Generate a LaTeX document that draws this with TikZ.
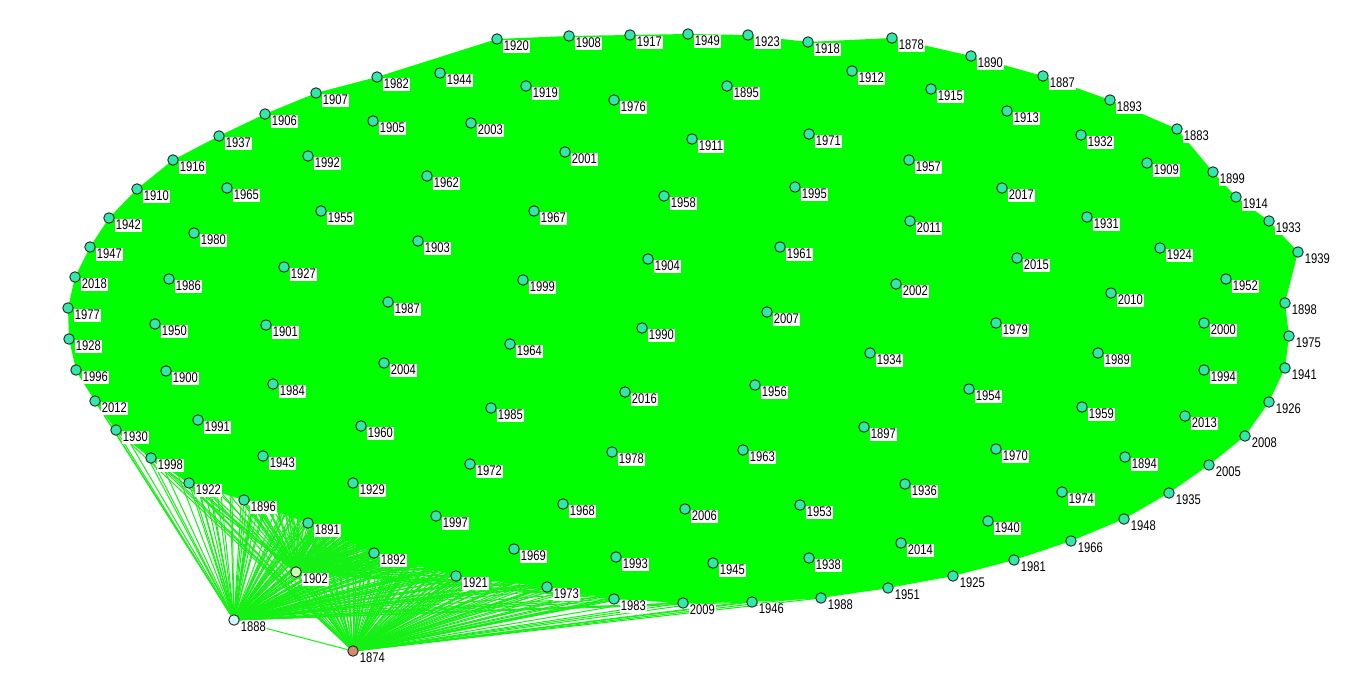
\documentclass[tikz,border=0pt]{standalone}
\usepackage{fontspec}
\newfontfamily\labfont[FakeStretch=0.8]{Liberation Sans}
\usetikzlibrary{backgrounds}
\definecolor{hullgreen}{RGB}{0,255,0}
\definecolor{edgegreen}{RGB}{20,240,20}
\definecolor{vfill}{RGB}{50,232,168}
\definecolor{vline}{RGB}{30,40,35}
\definecolor{fillA}{RGB}{208,255,178}
\definecolor{fillB}{RGB}{210,246,255}
\definecolor{fillC}{RGB}{208,140,108}
\def\outerlist{1920/497/39, 1908/569/36, 1917/630/35, 1949/688/34, 1923/748/35, 1918/808/42, 1878/892/38, 1890/971/56, 1887/1043/76, 1893/1110/100, 1883/1177/129, 1899/1213/172, 1914/1236/197, 1933/1269/221, 1939/1298/252, 1898/1285/303, 1975/1289/336, 1941/1285/368, 1926/1269/402, 2008/1245/436, 2005/1209/465, 1935/1169/493, 1948/1124/519, 1966/1071/541, 1981/1014/560, 1925/953/576, 1951/888/588, 1988/821/598, 1946/752/602, 2009/683/603, 1983/614/599, 1973/547/587, 1921/456/576, 1892/374/553, 1891/308/523, 1896/244/500, 1922/189/483, 1998/151/458, 1930/116/430, 2012/95/401, 1996/76/370, 1928/69/339, 1977/68/308, 2018/75/277, 1947/90/247, 1942/109/218, 1910/137/189, 1916/173/160, 1937/219/136, 1906/265/114, 1907/316/93, 1982/377/77}
\def\innerlist{1944/440/73, 1919/526/86, 1976/614/100, 1895/727/86, 1912/852/71, 1915/931/89, 1913/1007/111, 1932/1081/135, 1909/1147/163, 1905/373/121, 2003/471/123, 1911/692/139, 1971/809/134, 1957/909/160, 2017/1002/188, 1931/1087/217, 1924/1160/248, 1952/1226/279, 2000/1204/323, 1994/1204/370, 2013/1185/416, 1894/1125/457, 1974/1062/492, 1992/308/156, 2001/565/152, 1962/427/176, 1958/664/196, 1995/795/187, 2011/910/221, 1965/227/188, 1955/321/211, 1967/534/211, 1980/194/233, 1903/418/241, 1961/780/247, 1904/648/259, 2015/1017/258, 2010/1111/293, 1927/284/267, 1986/169/279, 1999/523/280, 2002/896/284, 1987/388/302, 2007/767/312, 1979/996/323, 1950/155/324, 1901/266/325, 1990/642/328, 1964/510/344, 1934/870/353, 1989/1098/353, 2004/384/363, 1900/166/371, 1984/273/384, 1956/755/385, 2016/625/392, 1954/969/389, 1959/1082/407, 1985/491/408, 1991/198/420, 1960/361/426, 1897/864/427, 1970/996/449, 1943/263/456, 1963/743/450, 1978/612/452, 1972/470/464, 1929/353/483, 1936/905/484, 1968/563/504, 1997/436/516, 2006/685/509, 1953/800/505, 1940/988/521, 1969/514/549, 1993/616/557, 2014/901/543, 1945/713/563, 1938/809/558}
\begin{document}
\begin{tikzpicture}[x=1pt,y=-1pt,
  vtx/.style={circle,draw=vline,line width=0.9pt,fill=vfill,minimum size=10.5pt,inner sep=0pt},
  lab/.style={fill=white,inner xsep=0.7pt,inner ysep=1.5pt,anchor=north west,font={\fontsize{14}{15}\labfont}},
  edge/.style={draw=edgegreen,line width=1pt},
  hull/.style={fill=hullgreen}]
\useasboundingbox (0,0) rectangle (1366,685);
% vertices
\foreach \n/\x/\y in \outerlist { \node[vtx] (v\n) at (\x,\y) {}; }
\foreach \n/\x/\y in \innerlist { \node[vtx] (v\n) at (\x,\y) {}; }
\node[vtx,fill=fillA] (v1902) at (296,572) {};
\node[vtx,fill=fillB] (v1888) at (234,620) {};
\node[vtx,fill=fillC] (v1874) at (353,651) {};
% edges
\begin{pgfonlayer}{background}
\fill[white] (0,0) rectangle (1366,685);
\foreach \n/\x/\y in \outerlist {
  \draw[edge] (v1888) -- (v\n);
  \draw[edge] (v1874) -- (v\n);
  \draw[edge] (v1902) -- (v\n);
}
\foreach \n/\x/\y in \innerlist {
  \draw[edge] (v1888) -- (v\n);
  \draw[edge] (v1874) -- (v\n);
  \draw[edge] (v1902) -- (v\n);
}
\draw[edge] (v1888) -- (v1874);
\draw[edge] (v1888) -- (v1902);
\draw[edge] (v1874) -- (v1902);
\fill[hull] (v1920.center) -- (v1908.center) -- (v1917.center) -- (v1949.center) -- (v1923.center) -- (v1918.center) -- (v1878.center) -- (v1890.center) -- (v1887.center) -- (v1893.center) -- (v1883.center) -- (v1899.center) -- (v1914.center) -- (v1933.center) -- (v1939.center) -- (v1898.center) -- (v1975.center) -- (v1941.center) -- (v1926.center) -- (v2008.center) -- (v2005.center) -- (v1935.center) -- (v1948.center) -- (v1966.center) -- (v1981.center) -- (v1925.center) -- (v1951.center) -- (v1988.center) -- (v1946.center) -- (v2009.center) -- (v1983.center) -- (v1973.center) -- (v1921.center) -- (v1892.center) -- (v1891.center) -- (v1896.center) -- (v1922.center) -- (v1998.center) -- (v1930.center) -- (v2012.center) -- (v1996.center) -- (v1928.center) -- (v1977.center) -- (v2018.center) -- (v1947.center) -- (v1942.center) -- (v1910.center) -- (v1916.center) -- (v1937.center) -- (v1906.center) -- (v1907.center) -- (v1982.center) -- cycle;
\end{pgfonlayer}
% labels
\foreach \n/\x/\y in \outerlist { \node[lab] (l\n) at ([shift={(6,0.5)}]v\n.center) {\n}; }
\foreach \n/\x/\y in \innerlist { \node[lab] (l\n) at ([shift={(6,0.5)}]v\n.center) {\n}; }
\foreach \n in {1902,1888,1874} { \node[lab] (l\n) at ([shift={(6,0.5)}]v\n.center) {\n}; }
\end{tikzpicture}
\end{document}
